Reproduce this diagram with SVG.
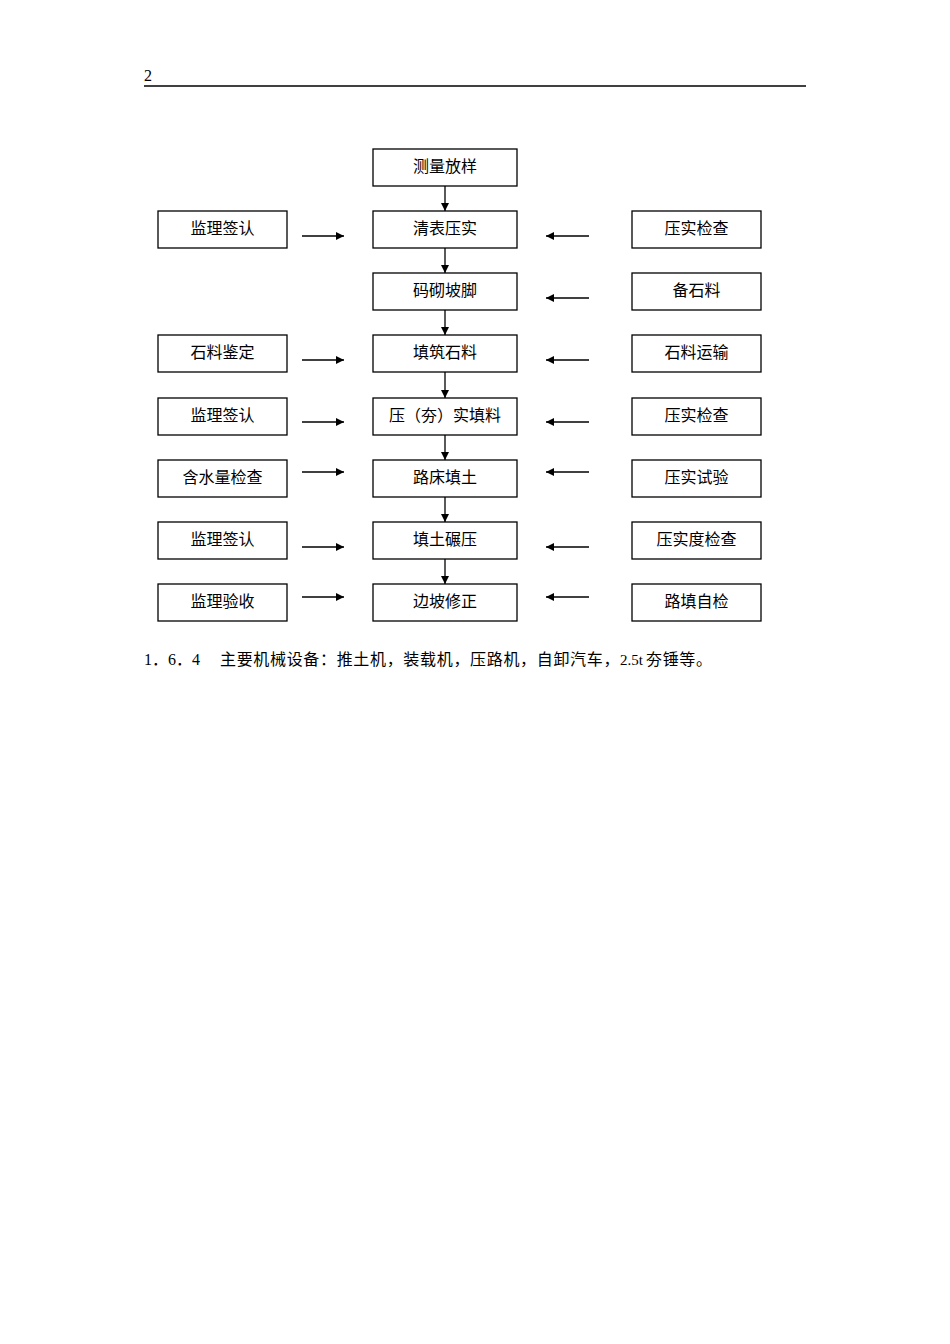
<svg xmlns="http://www.w3.org/2000/svg" width="950" height="1344" viewBox="0 0 950 1344">
<style>
.b{fill:#fff;stroke:#000;stroke-width:1.3}
.t{font-family:"Liberation Serif","Noto Sans CJK SC",serif;font-size:16px;fill:#000;text-anchor:middle}
.c{stroke:#000;stroke-width:1.3;fill:none}
.p{font-family:"Liberation Serif","Noto Sans CJK SC",serif;font-size:16px;fill:#000}
</style>
<defs>
<marker id="ah" viewBox="0 0 10 10" refX="10" refY="5" markerWidth="8" markerHeight="8" markerUnits="userSpaceOnUse" orient="auto">
<path d="M0,0 L10,5 L0,10 z" fill="#000"/>
</marker>
</defs>
<rect width="950" height="1344" fill="#fff"/>
<text class="p" x="144" y="81" font-size="14">2</text>
<line x1="144" y1="86" x2="806" y2="86" stroke="#000" stroke-width="1.3"/>

<g id="connectors">
<line class="c" x1="445" y1="186" x2="445" y2="211" marker-end="url(#ah)"/>
<line class="c" x1="445" y1="248" x2="445" y2="273" marker-end="url(#ah)"/>
<line class="c" x1="445" y1="310" x2="445" y2="335" marker-end="url(#ah)"/>
<line class="c" x1="445" y1="372" x2="445" y2="398" marker-end="url(#ah)"/>
<line class="c" x1="445" y1="435" x2="445" y2="460" marker-end="url(#ah)"/>
<line class="c" x1="445" y1="497" x2="445" y2="522" marker-end="url(#ah)"/>
<line class="c" x1="445" y1="559" x2="445" y2="584" marker-end="url(#ah)"/>
<line class="c" x1="302" y1="236" x2="344" y2="236" marker-end="url(#ah)"/>
<line class="c" x1="302" y1="360" x2="344" y2="360" marker-end="url(#ah)"/>
<line class="c" x1="302" y1="422" x2="344" y2="422" marker-end="url(#ah)"/>
<line class="c" x1="302" y1="472" x2="344" y2="472" marker-end="url(#ah)"/>
<line class="c" x1="302" y1="547" x2="344" y2="547" marker-end="url(#ah)"/>
<line class="c" x1="302" y1="597" x2="344" y2="597" marker-end="url(#ah)"/>
<line class="c" x1="589" y1="236" x2="546" y2="236" marker-end="url(#ah)"/>
<line class="c" x1="589" y1="298" x2="546" y2="298" marker-end="url(#ah)"/>
<line class="c" x1="589" y1="360" x2="546" y2="360" marker-end="url(#ah)"/>
<line class="c" x1="589" y1="422" x2="546" y2="422" marker-end="url(#ah)"/>
<line class="c" x1="589" y1="472" x2="546" y2="472" marker-end="url(#ah)"/>
<line class="c" x1="589" y1="547" x2="546" y2="547" marker-end="url(#ah)"/>
<line class="c" x1="589" y1="597" x2="546" y2="597" marker-end="url(#ah)"/>
</g>

<g id="c1"><rect class="b" x="373" y="149" width="144" height="37"/><text class="t" x="445" y="172">测量放样</text></g>
<g id="c2"><rect class="b" x="373" y="211" width="144" height="37"/><text class="t" x="445" y="234">清表压实</text></g>
<g id="c3"><rect class="b" x="373" y="273" width="144" height="37"/><text class="t" x="445" y="296">码砌坡脚</text></g>
<g id="c4"><rect class="b" x="373" y="335" width="144" height="37"/><text class="t" x="445" y="358">填筑石料</text></g>
<g id="c5"><rect class="b" x="373" y="398" width="144" height="37"/><text class="t" x="445" y="421">压（夯）实填料</text></g>
<g id="c6"><rect class="b" x="373" y="460" width="144" height="37"/><text class="t" x="445" y="483">路床填土</text></g>
<g id="c7"><rect class="b" x="373" y="522" width="144" height="37"/><text class="t" x="445" y="545">填土碾压</text></g>
<g id="c8"><rect class="b" x="373" y="584" width="144" height="37"/><text class="t" x="445" y="607">边坡修正</text></g>

<g id="l2"><rect class="b" x="158" y="211" width="129" height="37"/><text class="t" x="222.5" y="234">监理签认</text></g>
<g id="l4"><rect class="b" x="158" y="335" width="129" height="37"/><text class="t" x="222.5" y="358">石料鉴定</text></g>
<g id="l5"><rect class="b" x="158" y="398" width="129" height="37"/><text class="t" x="222.5" y="421">监理签认</text></g>
<g id="l6"><rect class="b" x="158" y="460" width="129" height="37"/><text class="t" x="222.5" y="483">含水量检查</text></g>
<g id="l7"><rect class="b" x="158" y="522" width="129" height="37"/><text class="t" x="222.5" y="545">监理签认</text></g>
<g id="l8"><rect class="b" x="158" y="584" width="129" height="37"/><text class="t" x="222.5" y="607">监理验收</text></g>

<g id="r2"><rect class="b" x="632" y="211" width="129" height="37"/><text class="t" x="696.5" y="234">压实检查</text></g>
<g id="r3"><rect class="b" x="632" y="273" width="129" height="37"/><text class="t" x="696.5" y="296">备石料</text></g>
<g id="r4"><rect class="b" x="632" y="335" width="129" height="37"/><text class="t" x="696.5" y="358">石料运输</text></g>
<g id="r5"><rect class="b" x="632" y="398" width="129" height="37"/><text class="t" x="696.5" y="421">压实检查</text></g>
<g id="r6"><rect class="b" x="632" y="460" width="129" height="37"/><text class="t" x="696.5" y="483">压实试验</text></g>
<g id="r7"><rect class="b" x="632" y="522" width="129" height="37"/><text class="t" x="696.5" y="545">压实度检查</text></g>
<g id="r8"><rect class="b" x="632" y="584" width="129" height="37"/><text class="t" x="696.5" y="607">路填自检</text></g>

<text class="p" x="144" y="665">1．6．4<tspan x="220" letter-spacing="0.67">主要机械设备：推土机，装载机，压路机，自卸汽车，</tspan><tspan x="620" font-size="15">2.5t</tspan><tspan x="646" letter-spacing="0.67">夯锤等。</tspan></text>
</svg>
